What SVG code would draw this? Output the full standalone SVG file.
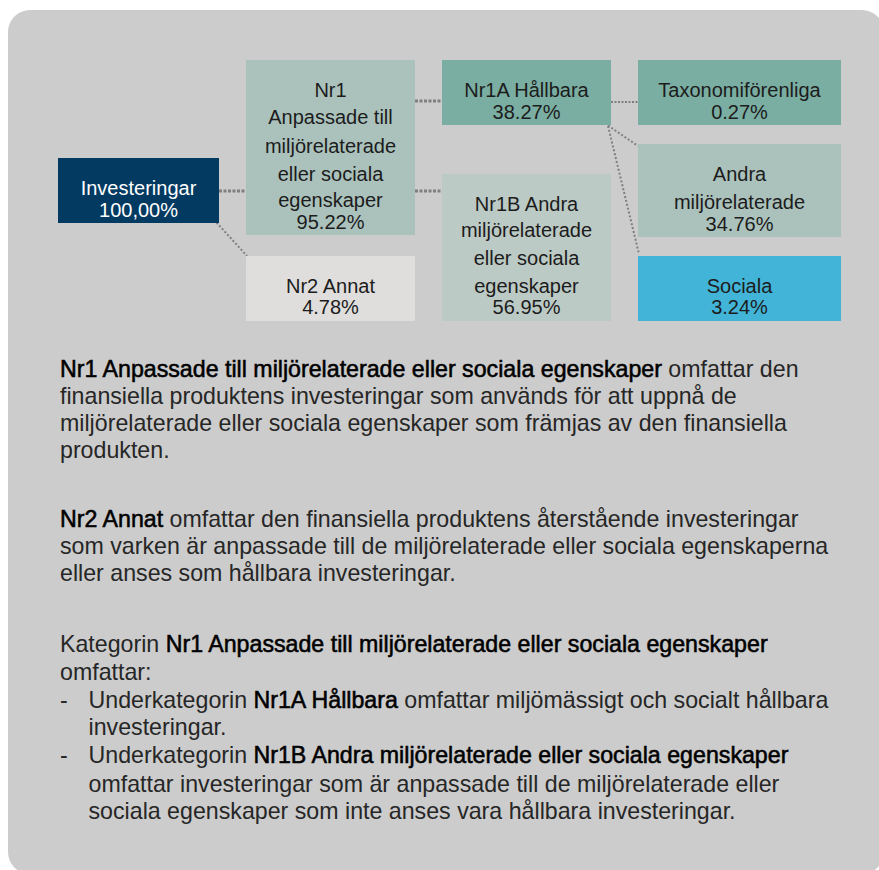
<svg xmlns="http://www.w3.org/2000/svg" width="879" height="870" viewBox="0 0 879 870">
<style>
.n{font-family:"Liberation Sans",Arial,sans-serif;font-size:20px;fill:#1c1c1c;text-anchor:middle}
.w{fill:#ffffff}
.b{font-family:"Liberation Sans",Arial,sans-serif;font-size:23.2px;fill:#262626}
.k{fill:#000;stroke:#000;stroke-width:0.55px}
.c{fill:none;stroke:#7f7f7f}
.h{stroke-width:3;stroke-dasharray:3 1.5}
.t{stroke-width:1.8;stroke-dasharray:2 1.5}
.d{stroke-width:2;stroke-dasharray:2 2}
</style>
<rect x="0" y="0" width="879" height="870" fill="#ffffff"/>
<rect x="8" y="10" width="876" height="864" rx="22" fill="#cccccc"/>
<g id="connectors">
<line class="c h" x1="219" y1="191" x2="246" y2="191"/>
<line class="c d" x1="216.5" y1="222.5" x2="247" y2="256"/>
<line class="c h" x1="415" y1="101" x2="442" y2="101"/>
<line class="c h" x1="415" y1="191" x2="442" y2="191"/>
<line class="c t" x1="611" y1="102" x2="638" y2="102"/>
<line class="c d" x1="608" y1="125.5" x2="638" y2="146"/>
<line class="c d" x1="608" y1="126" x2="639" y2="254"/>
</g>
<g id="investeringar">
<rect x="58" y="158" width="161" height="65" fill="#033a61"/>
<text class="n w" x="138.5" y="195">Investeringar</text>
<text class="n w" x="138.5" y="216.5">100,00%</text>
</g>
<g id="nr1">
<rect x="246" y="60" width="169" height="175" fill="#abc2bc"/>
<text class="n" x="330.5" y="96.5">Nr1</text>
<text class="n" x="330.5" y="124.3">Anpassade till</text>
<text class="n" x="330.5" y="152.5">miljörelaterade</text>
<text class="n" x="330.5" y="180.5">eller sociala</text>
<text class="n" x="330.5" y="206.5">egenskaper</text>
<text class="n" x="330.5" y="228.5">95.22%</text>
</g>
<g id="nr2">
<rect x="246" y="256" width="169" height="65" fill="#dfdedd"/>
<text class="n" x="330.5" y="292.5">Nr2 Annat</text>
<text class="n" x="330.5" y="314.3">4.78%</text>
</g>
<g id="nr1a">
<rect x="442" y="60" width="169" height="65" fill="#7aaea2"/>
<text class="n" x="526.5" y="97.3">Nr1A Hållbara</text>
<text class="n" x="526.5" y="118.7">38.27%</text>
</g>
<g id="nr1b">
<rect x="442" y="174" width="169" height="147" fill="#bccac5"/>
<text class="n" x="526.5" y="210.7">Nr1B Andra</text>
<text class="n" x="526.5" y="237">miljörelaterade</text>
<text class="n" x="526.5" y="265">eller sociala</text>
<text class="n" x="526.5" y="292.7">egenskaper</text>
<text class="n" x="526.5" y="314">56.95%</text>
</g>
<g id="taxonomi">
<rect x="638" y="60" width="203" height="65" fill="#7aaea2"/>
<text class="n" x="739.5" y="97.3">Taxonomiförenliga</text>
<text class="n" x="739.5" y="118.7">0.27%</text>
</g>
<g id="andra">
<rect x="638" y="144" width="203" height="93" fill="#abc2bc"/>
<text class="n" x="739.5" y="180.7">Andra</text>
<text class="n" x="739.5" y="208.7">miljörelaterade</text>
<text class="n" x="739.5" y="230.7">34.76%</text>
</g>
<g id="sociala">
<rect x="638" y="256" width="203" height="65" fill="#41b4d8"/>
<text class="n" x="739.5" y="292.7">Sociala</text>
<text class="n" x="739.5" y="314">3.24%</text>
</g>
<g id="text">
<text class="b" x="60" y="377"><tspan class="k">Nr1 Anpassade till miljörelaterade eller sociala egenskaper</tspan> omfattar den</text>
<text class="b" x="60" y="404">finansiella produktens investeringar som används för att uppnå de</text>
<text class="b" x="60" y="431">miljörelaterade eller sociala egenskaper som främjas av den finansiella</text>
<text class="b" x="60" y="458">produkten.</text>
<text class="b" x="60" y="527"><tspan class="k">Nr2 Annat</tspan> omfattar den finansiella produktens återstående investeringar</text>
<text class="b" x="60" y="554">som varken är anpassade till de miljörelaterade eller sociala egenskaperna</text>
<text class="b" x="60" y="581">eller anses som hållbara investeringar.</text>
<text class="b" x="60" y="652">Kategorin <tspan class="k">Nr1 Anpassade till miljörelaterade eller sociala egenskaper</tspan></text>
<text class="b" x="60" y="680">omfattar:</text>
<text class="b" x="60" y="708">-</text>
<text class="b" x="88.5" y="708">Underkategorin <tspan class="k">Nr1A Hållbara</tspan> omfattar miljömässigt och socialt hållbara</text>
<text class="b" x="88.5" y="735">investeringar.</text>
<text class="b" x="60" y="763">-</text>
<text class="b" x="88.5" y="763">Underkategorin <tspan class="k">Nr1B Andra miljörelaterade eller sociala egenskaper</tspan></text>
<text class="b" x="88.5" y="792">omfattar investeringar som är anpassade till de miljörelaterade eller</text>
<text class="b" x="88.5" y="819">sociala egenskaper som inte anses vara hållbara investeringar.</text>
</g>
</svg>
